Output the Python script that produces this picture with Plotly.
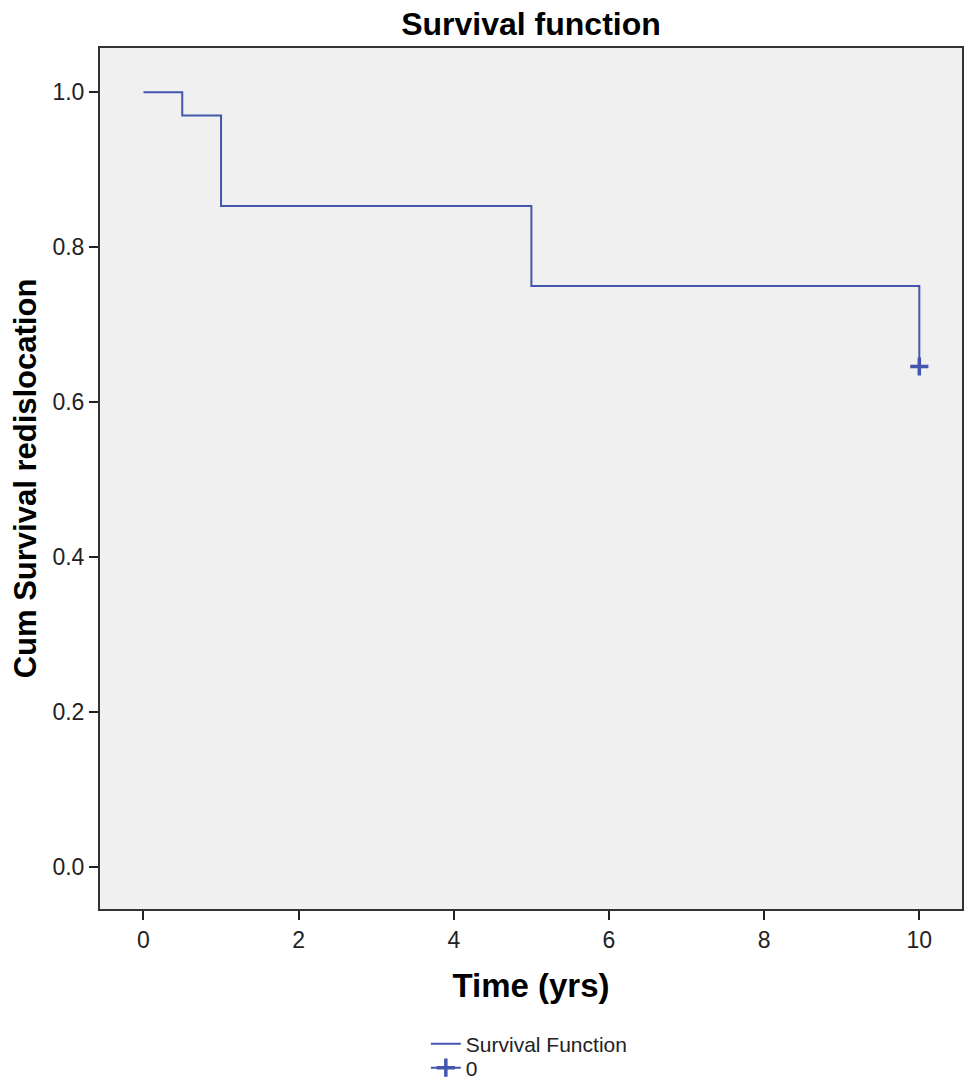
import plotly.graph_objects as go

# survival step data
time_yrs = [0, 0.5, 1, 5, 10, 10]
cum_survival = [1.0, 0.97, 0.853, 0.75, 0.75, 0.646]

# censored cases
censor_time = [10]
censor_surv = [0.646]

x_ticks = [0, 2, 4, 6, 8, 10]
y_ticks = [0.0, 0.2, 0.4, 0.6, 0.8, 1.0]

line_col = "#4356ad"
font_name = "Liberation Sans, Arial, sans-serif"

fig = go.Figure()
fig.add_trace(go.Scatter(x=time_yrs, y=cum_survival, mode="lines",
                         line=dict(color=line_col, width=2, shape="hv"),
                         name="Survival Function", legend="legend"))
fig.add_trace(go.Scatter(x=censor_time, y=censor_surv, mode="lines+markers",
                         line=dict(color=line_col, width=2),
                         marker=dict(symbol="cross-thin", size=13,
                                     line=dict(color=line_col, width=3.5)),
                         name="0", legend="legend2"))

# page body adds ~8px offset, so the figure is a bit smaller than the window
H = 1075
leg_common = dict(x=0.378, xanchor="left", yref="container", yanchor="middle",
                  bgcolor="rgba(0,0,0,0)", font=dict(size=21, color="#222"),
                  itemwidth=30)
fig.update_layout(
    width=960, height=H,
    margin=dict(l=92, r=4, t=40, b=174),
    paper_bgcolor="white",
    plot_bgcolor="#f0f0f0",
    font=dict(family=font_name, color="#222"),
    title=dict(text="<b>Survival function</b>", x=0.5, xref="paper", xanchor="center",
               y=1 - 16 / H, yanchor="middle", font=dict(size=32, color="black")),
    legend=dict(y=1 - 1036 / H, **leg_common),
    legend2=dict(y=1 - 1060 / H, **leg_common),
    showlegend=True,
)
fig.update_xaxes(range=[-0.56, 10.55], tickvals=x_ticks, ticktext=[str(v) for v in x_ticks],
                 showgrid=False, zeroline=False, showline=True, mirror=True,
                 linecolor="#333", linewidth=2, ticks="outside", ticklen=9,
                 tickwidth=2, tickcolor="#222", tickfont=dict(size=23),
                 title=dict(text="<b>Time (yrs)</b>", font=dict(size=33, color="black"),
                            standoff=22))
fig.update_yaxes(range=[-0.054, 1.057], tickvals=y_ticks, ticktext=["%.1f" % v for v in y_ticks],
                 showgrid=False, zeroline=False, showline=True, mirror=True,
                 linecolor="#333", linewidth=2, ticks="outside", ticklen=9,
                 tickwidth=2, tickcolor="#222", tickfont=dict(size=23),
                 title=dict(text="<b>Cum Survival redislocation</b>",
                            font=dict(size=31, color="black"), standoff=8))

fig.write_html("out.html")
